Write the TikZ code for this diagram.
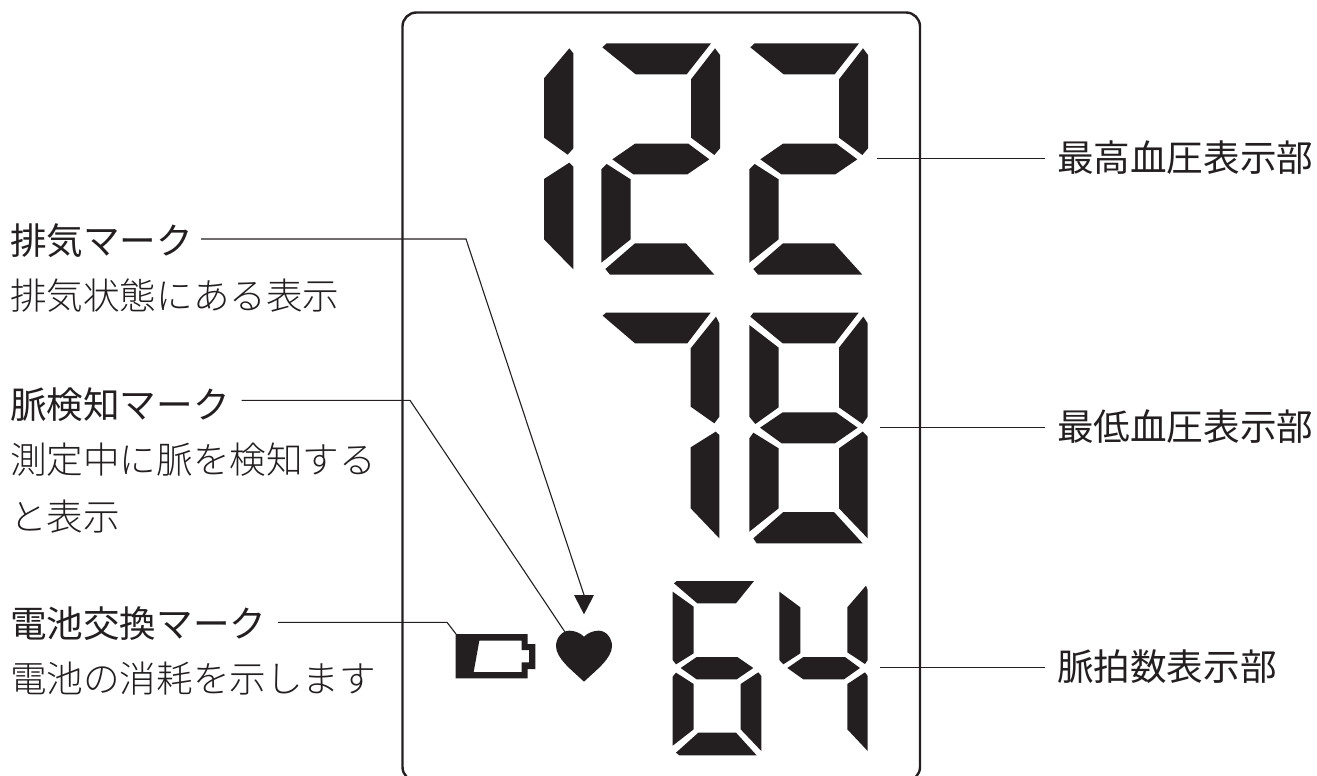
\documentclass[tikz,border=0pt]{standalone}
\usepackage{fontspec}
\setmainfont{Noto Sans CJK JP}
\newfontfamily\lightjp{Noto Sans CJK JP Light}
\definecolor{ink}{HTML}{231F20}
\tikzset{
  seg/.style={fill=ink,draw=none},
  frameline/.style={draw=ink,line width=2.4pt},
  lead/.style={draw=ink,line width=1.1pt},
  lbl/.style={inner sep=0pt,outer sep=0pt,anchor=base west,text=ink,font=\fontsize{36.6pt}{36.6pt}\selectfont},
  lbllight/.style={lbl,font=\fontsize{36.6pt}{36.6pt}\selectfont\lightjp},
  zoomed/.style={x=0.33333pt,y=-0.33333pt}
}
\newcommand{\digittwo}{%
  \fill[seg] (217,52)--(230,40)--(543,40)--(470,133)--(317,133)--cycle;
  \fill[seg] (483,148)--(555,55)--(570,75)--(570,355)--(553,375)--(483,323)--cycle;
  \fill[seg] (247,388)--(315,341)--(475,341)--(538,388)--(472,433)--(310,433)--cycle;
  \fill[seg] (214,418)--(230,402)--(302,448)--(302,628)--(214,698)--cycle;
  \fill[seg] (226,717)--(315,640)--(468,640)--(553,734)--(240,734)--cycle;
}
\begin{document}
\begin{tikzpicture}[x=1pt,y=-1pt]
\useasboundingbox (0,0) rectangle (1317,776);
% frame
\draw[frameline,rounded corners=14pt] (402.5,12.5) rectangle (920,781);
% 122
\begin{scope}[shift={(530,30)},zoomed]
  \fill[seg] (42,145)--(118,55)--(130,70)--(130,355)--(113,374)--(42,323)--cycle;
  \fill[seg] (42,447)--(118,398)--(130,410)--(130,718)--(42,628)--cycle;
  \digittwo
\end{scope}
\begin{scope}[shift={(678,30)},zoomed]
  \digittwo
\end{scope}
% 78
\begin{scope}[shift={(590,300)},zoomed]
  \fill[seg] (38,47)--(48,38)--(362,38)--(292,130)--(135,130)--cycle;
  \fill[seg] (302,145)--(378,50)--(388,70)--(388,350)--(373,370)--(302,320)--cycle;
  \fill[seg] (302,442)--(377,395)--(388,405)--(388,715)--(302,625)--cycle;
  \fill[seg] (481,50)--(490,38)--(806,38)--(735,130)--(578,130)--cycle;
  \fill[seg] (478,75)--(566,143)--(566,322)--(496,372)--(478,350)--cycle;
  \fill[seg] (747,143)--(820,50)--(833,70)--(833,350)--(818,372)--(747,322)--cycle;
  \fill[seg] (510,383)--(578,337)--(738,337)--(803,383)--(735,430)--(575,430)--cycle;
  \fill[seg] (478,415)--(490,398)--(566,445)--(566,625)--(478,695)--cycle;
  \fill[seg] (747,445)--(818,395)--(833,410)--(833,715)--(747,625)--cycle;
  \fill[seg] (490,715)--(580,636)--(732,636)--(818,730)--(500,730)--cycle;
\end{scope}
% 64, battery, heart, triangle
\begin{scope}[shift={(440,570)},zoomed]
  \fill[seg] (702,40)--(710,33)--(942,33)--(888,100)--(772,100)--cycle;
  \fill[seg] (698,65)--(761,110)--(761,250)--(708,283)--(698,270)--cycle;
  \fill[seg] (722,294)--(770,261)--(892,261)--(940,294)--(890,328)--(770,328)--cycle;
  \fill[seg] (698,320)--(708,308)--(761,342)--(761,478)--(698,527)--cycle;
  \fill[seg] (902,342)--(955,307)--(964,318)--(964,543)--(902,478)--cycle;
  \fill[seg] (708,548)--(775,488)--(888,488)--(950,556)--(718,556)--cycle;
  \fill[seg] (1018,65)--(1081,112)--(1081,250)--(1030,283)--(1018,270)--cycle;
  \fill[seg] (1222,112)--(1278,47)--(1283,60)--(1283,270)--(1275,282)--(1222,247)--cycle;
  \fill[seg] (1042,294)--(1090,261)--(1215,261)--(1260,294)--(1212,328)--(1090,328)--cycle;
  \fill[seg] (1222,342)--(1275,307)--(1283,318)--(1283,543)--(1222,478)--cycle;
  % battery
  \fill[seg,even odd rule] (47,192)--(263,192)--(263,222)--(286,222)--(286,297)--(263,297)--(263,325)--(47,325)--cycle
     (118,212)--(245,212)--(245,240)--(267,240)--(267,277)--(245,277)--(245,306)--(101,306)--cycle;
  % heart
  \fill[seg] (432,200) .. controls (420,188) and (403,182) .. (388,182)
     .. controls (365,182) and (348,205) .. (348,228)
     .. controls (348,265) and (395,300) .. (432,335)
     .. controls (469,300) and (516,265) .. (516,228)
     .. controls (516,205) and (499,182) .. (476,182)
     .. controls (461,182) and (444,188) .. (432,200) -- cycle;
  % triangle marker
  \fill[seg] (402,75)--(462,75)--(432,133)--cycle;
\end{scope}
% labels (baseline = visual centre + 0.38em)
\node[lbl] (haiki) at (10,254) {排気マーク};
\node[lbllight] (haikid) at (10,309) {排気状態にある表示};
\node[lbl] (myaku) at (10,418) {脈検知マーク};
\node[lbllight] (myakud1) at (10,473) {測定中に脈を検知する};
\node[lbllight] (myakud2) at (10,530) {と表示};
\node[lbl] (denchi) at (10,637) {電池交換マーク};
\node[lbllight] (denchid) at (10,692) {電池の消耗を示します};
\node[lbl] (sys) at (1057,171.5) {最高血圧表示部};
\node[lbl] (dia) at (1057,440) {最低血圧表示部};
\node[lbl] (pul) at (1057,680) {脈拍数表示部};
% leader points
\coordinate (c1) at (466,239);
\coordinate (e1) at (584,595);
\coordinate (c2) at (410,400.3);
\coordinate (e2) at (565,632);
\coordinate (c3) at (447,622.3);
\coordinate (e3) at (456,634);
\coordinate (e4) at (877,158.5);
\coordinate (e5) at (880,427.7);
\coordinate (e6) at (880,667.7);
% leaders
\draw[lead,shorten <=8pt] (haiki.east |- c1) -- (c1) -- (e1);
\draw[lead,shorten <=12pt] (myaku.east |- c2) -- (c2) -- (e2);
\draw[lead,shorten <=12pt] (denchi.east |- c3) -- (c3) -- (e3);
\draw[lead,shorten <=12pt] (sys.west |- e4) -- (e4);
\draw[lead,shorten <=12pt] (dia.west |- e5) -- (e5);
\draw[lead,shorten <=12pt] (pul.west |- e6) -- (e6);
\end{tikzpicture}
\end{document}
